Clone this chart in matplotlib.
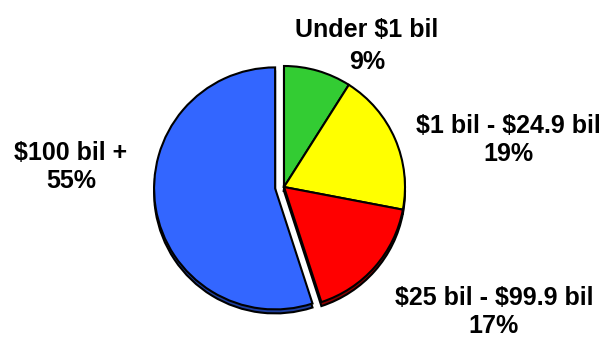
import matplotlib
matplotlib.use('Agg')
import matplotlib.pyplot as plt

# Share of total assets by bank size
categories = ['Under $1 bil', '$1 bil - $24.9 bil', '$25 bil - $99.9 bil', '$100 bil +']
shares = [9, 19, 17, 55]

colors = ['#33CC33', '#FFFF00', '#FF0000', '#3366FF']
shadow_colors = ['#1E7A1E', '#999900', '#8B0000', '#1F3F9E']
explode = [0, 0, 0, 9]  # pie() takes explode in data units here

# label block centres (pixels, y up) and line spacing per label
label_pos = [(367, 291), (508, 197), (494, 25), (71, 170)]
label_spacing = [1.4, 1.2, 1.25, 1.2]

W, H = 610, 337
cx, cy, R = 284, 150, 121

fig = plt.figure(figsize=(W / 100, H / 100), dpi=100)
ax = fig.add_axes([0, 0, 1, 1])

# dark copy underneath gives the pie some depth
ax.pie(shares, colors=shadow_colors, explode=explode, startangle=90,
       counterclock=False, center=(cx, cy - 4), radius=R,
       wedgeprops=dict(edgecolor='black', linewidth=1.5))
ax.pie(shares, colors=colors, explode=explode, startangle=90,
       counterclock=False, center=(cx, cy), radius=R,
       wedgeprops=dict(edgecolor='black', linewidth=1.5))

for cat, val, (x, y), ls in zip(categories, shares, label_pos, label_spacing):
    ax.text(x, y, f'{cat}\n{val}%', ha='center', va='center',
            fontsize=18, fontweight='bold', family='Liberation Sans',
            linespacing=ls, color='black', parse_math=False)

ax.set_xlim(0, W)
ax.set_ylim(0, H)
ax.set_aspect('equal')
ax.axis('off')

fig.savefig('out.png', dpi=100)
